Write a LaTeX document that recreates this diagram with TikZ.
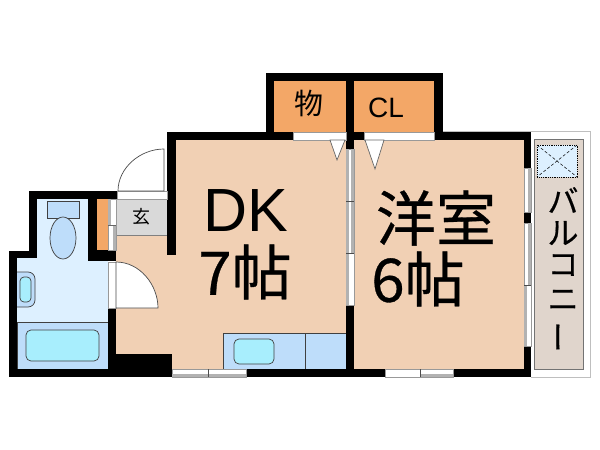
\documentclass[tikz,border=0pt]{standalone}
\usepackage{fontspec}
\setmainfont{Liberation Sans}
\newfontfamily\jpfont{Noto Sans CJK JP}
\newfontfamily\jpbig[FakeBold=0.5]{Noto Sans CJK JP}
\definecolor{floorc}{HTML}{F1D0B4}
\definecolor{closetc}{HTML}{F3A767}
\definecolor{bathc}{HTML}{DDF0FF}
\definecolor{fixc}{HTML}{BEDDFA}
\definecolor{waterc}{HTML}{A8EEFD}
\definecolor{tilec}{HTML}{D9D9D9}
\definecolor{balcc}{HTML}{E0D5CC}
\tikzset{
	wall/.style={fill=black,draw=none},
	fix/.style={draw=black!75,line width=0.7pt},
	pane/.style={fill=white,draw=black!40,line width=0.6pt},
	glass/.style={fill=black!30,draw=none},
	doorleaf/.style={fill=white,draw=black!70,line width=0.7pt},
	bigtext/.style={font=\fontsize{61}{61}\selectfont,inner sep=0pt},
	bigjp/.style={font=\jpbig\fontsize{60}{60}\selectfont,inner sep=0pt},
	kana/.style={font=\jpbig\fontsize{31}{31}\selectfont,inner sep=0pt},
}
\begin{document}
\begin{tikzpicture}[x=1pt,y=-1pt]
	\useasboundingbox[fill=white] (0,0) rectangle (600,450);
	%FLOORS
	\fill[floorc] (176,140) rectangle (346,369);
	\fill[floorc] (116,235) rectangle (176,369);
	\fill[floorc] (354,140) rectangle (524,369);
	\fill[closetc] (274,81) rectangle (346,132);
	\fill[closetc] (354,81) rectangle (434,132);
	\fill[closetc] (97,199) rectangle (108,250);
	\fill[bathc] (37,199) rectangle (88,258);
	\fill[bathc] (17,258) rectangle (108,322);
	\draw[fill=tilec,draw=black!50] (116,199) rectangle (167,235);
	%BALCONY
	\draw[black!25] (443,131) -- (590,131) -- (590,377) -- (531,377);
	\draw[fill=balcc,draw=black!55] (534,139) rectangle (583,369);
	\draw[fill=bathc,draw=none] (537,145) rectangle (577,177);
	\draw[densely dotted,line width=0.8pt] (537,145) rectangle (577,177);
	\draw[densely dashed,line width=0.5pt] (537,145) -- (577,177) (577,145) -- (537,177);
	%BATH
	\draw[fix,fill=fixc] (17,322) rectangle (108,369);
	\draw[fix,fill=waterc,rounded corners=5pt] (26,330) rectangle (99,361);
	\draw[fix,fill=fixc] (47,201) rectangle (79,218);
	\draw[fix,fill=fixc] (63,238) ellipse (13 and 21);
	\draw[fix,fill=fixc,rounded corners=7pt] (17,272) -- (35,272) -- (35,307) -- (17,307);
	\draw[fix,fill=waterc,rounded corners=4pt] (20,277) -- (31,277) -- (31,302) -- (20,302) -- cycle;
	%KITCHEN
	\draw[fix,fill=fixc] (223,333) rectangle (346,369);
	\draw[fix] (305,333) -- (305,369);
	\draw[fix,fill=waterc,rounded corners=5pt] (234,339) rectangle (274,364);
	%WALLS
	\fill[wall] (9,251) rectangle (37,258);
	\fill[wall] (9,251) rectangle (17,377);
	\fill[wall] (29,191) rectangle (37,258);
	\fill[wall] (29,191) rectangle (117,199);
	\fill[wall] (88,191) rectangle (97,261);
	\fill[wall] (88,250) rectangle (116,261);
	\fill[wall] (108,308) rectangle (116,377);
	\fill[wall] (9,369) rectangle (172,377);
	\fill[wall] (116,354) rectangle (172,377);
	\fill[wall] (167,132) rectangle (176,255);
	\fill[wall] (167,132) rectangle (293,140);
	\fill[wall] (266,73) rectangle (443,81);
	\fill[wall] (266,73) rectangle (274,140);
	\fill[wall] (346,73) rectangle (354,149);
	\fill[wall] (434,73) rectangle (443,140);
	\fill[wall] (346,132) rectangle (364,140);
	\fill[wall] (434,132) rectangle (531,140);
	\fill[wall] (524,132) rectangle (531,168);
	\fill[wall] (524,212) rectangle (531,223);
	\fill[wall] (524,346) rectangle (531,377);
	\fill[wall] (346,305) rectangle (354,377);
	\fill[wall] (246,369) rectangle (385,377);
	\fill[wall] (453,369) rectangle (531,377);
	%OPENINGS
	\draw[pane] (293,132) rectangle (346,140);
	\draw[pane] (364,132) rectangle (434,140);
	\draw[pane] (117,191) rectangle (167,199);
	\draw[pane] (108,199) rectangle (116,250);
	\fill[glass] (108,199) rectangle (111,225);
	\fill[glass] (113,225) rectangle (116,250);
	\draw[black!60] (108,225) -- (116,225);
	\draw[pane] (108,262) rectangle (116,308);
	\draw[pane] (172,369) rectangle (246,377);
	\fill[glass] (172,374) rectangle (208,377);
	\fill[glass] (208,374) rectangle (246,377);
	\draw[black!70] (208,369) -- (208,377);
	\draw[pane] (385,369) rectangle (453,377);
	\fill[glass] (420,374) rectangle (453,377);
	\draw[black!70] (420,369) -- (420,377);
	\draw[pane] (346,149) rectangle (354,305);
	\fill[glass] (346,149) rectangle (349,305);
	\fill[glass] (351,149) rectangle (354,253);
	\draw[black!70] (346,201) -- (354,201) (346,253) -- (354,253);
	\draw[pane] (524,168) rectangle (531,212);
	\fill[glass] (528,168) rectangle (531,212);
	\draw[pane] (524,223) rectangle (531,346);
	\fill[glass] (528,223) rectangle (531,285);
	\fill[glass] (524,285) rectangle (527,346);
	\draw[black!70] (524,285) -- (531,285);
	%DOORS
	\draw[doorleaf] (164,191) -- (164,149) .. controls (140,149) and (118,168) .. (118,191) -- cycle;
	\draw[doorleaf] (116,308) -- (116,262) .. controls (140,262) and (158,285) .. (158,308) -- cycle;
	\draw[doorleaf,draw=black!60] (330,140) -- (345,140) -- (337,160) -- cycle;
	\draw[doorleaf,draw=black!60] (365,140) -- (384,140) -- (375,169) -- cycle;
	%LABELS
	\node[bigtext] (dk) at (246,211) {DK};
	\node[bigjp] (dkSize) at (245,272) {7帖};
	\node[bigjp] (yoshitsu) at (436,218) {洋室};
	\node[bigjp] (yoSize) at (418,279) {6帖};
	\node[inner sep=0pt,font=\jpfont\fontsize{29}{29}\selectfont] (mono) at (309,103) {物};
	\node[inner sep=0pt,font=\fontsize{28}{28}\selectfont] (cl) at (386,108) {CL};
	\node[inner sep=0pt,font=\jpfont\fontsize{18}{18}\selectfont] (genkan) at (141,217) {玄};
	\node[kana] (ba) at (563,200) {バ};
	\node[kana] (ru) at (563,233) {ル};
	\node[kana] (ko) at (563,265) {コ};
	\node[kana] (ni) at (563,300) {ニ};
	\node[kana,rotate=90] (bar) at (563,337) {ー};
\end{tikzpicture}
\end{document}
